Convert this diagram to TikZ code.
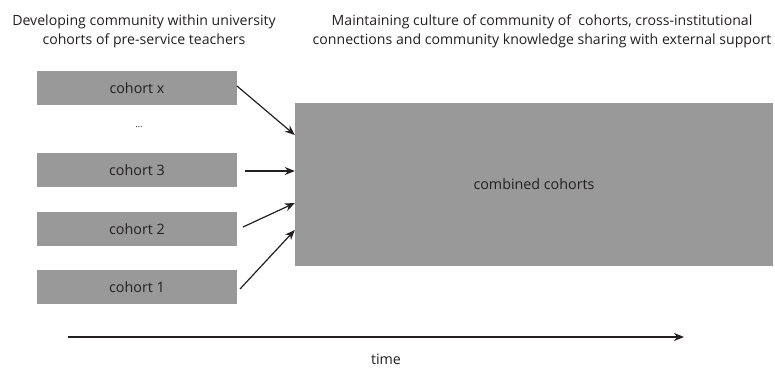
\documentclass[tikz,border=0pt]{standalone}
\usepackage{fontspec}
\setmainfont{Open Sans}
\usetikzlibrary{arrows.meta}
\definecolor{boxgray}{HTML}{999999}
\definecolor{txt}{HTML}{231F20}
\begin{document}
\begin{tikzpicture}[x=1pt,y=-1pt,
  cbox/.style={fill=boxgray,draw=none,minimum width=200pt,minimum height=34pt,inner sep=0pt,font=\fontsize{14.3}{16}\selectfont,text=txt},
  arr/.style={-{Stealth[length=10pt,width=8pt]},line width=1.2pt,draw=txt},
  lbl/.style={font=\fontsize{14.1}{19}\selectfont,text=txt,align=center}]
\useasboundingbox (0,0) rectangle (775,367);
\node[cbox] (cx) at (137,88) {cohort x};
\node[text=txt,font=\fontsize{9}{10}\selectfont] (dots) at (139,127) {...};
\node[cbox] (c3) at (137,170) {cohort 3};
\node[cbox] (c2) at (137,229) {cohort 2};
\node[cbox] (c1) at (137,287) {cohort 1};
\node[fill=boxgray,minimum width=478pt,minimum height=163pt,inner sep=0pt,font=\fontsize{14.3}{16}\selectfont,text=txt] (comb) at (534,184.5) {combined cohorts};
\coordinate (t3) at (245,171);
\coordinate (t2) at (243,227);
\coordinate (t1) at (240,289);
\coordinate (tx) at (237,86);
\draw[arr] (tx) -- (comb.west |- 0,135);
\draw[arr] (t3) -- (comb.west |- 0,171);
\draw[arr] (t2) -- (comb.west |- 0,203);
\draw[arr] (t1) -- (comb.west |- 0,230);
\node[lbl] (h1) at (144,31) {Developing community within university\\cohorts of pre-service teachers};
\node[lbl] (h2) at (542,31) {Maintaining culture of community of\ \ cohorts, cross-institutional\\connections and community knowledge sharing with external support};
\coordinate (ts) at (68,337);
\coordinate (te) at (684,337);
\draw[arr] (ts) -- (te);
\node[text=txt,font=\fontsize{14.3}{16}\selectfont] (time) at (386,359) {time};
\end{tikzpicture}
\end{document}
